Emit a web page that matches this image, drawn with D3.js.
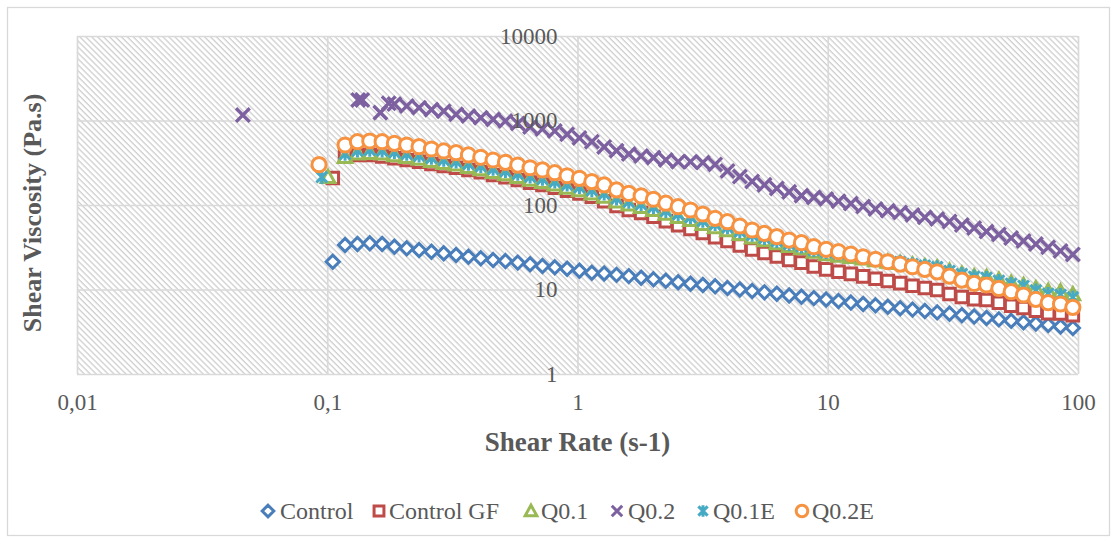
<!DOCTYPE html>
<html><head><meta charset="utf-8">
<script src="https://cdn.jsdelivr.net/npm/d3@7"></script>
<style>
html,body{margin:0;padding:0;background:#fff;}
svg{display:block;}
svg text{font-family:"Liberation Serif","Times New Roman",serif;}
</style></head>
<body>
<svg id="chart" width="1118" height="541"></svg>
<script>
// ---- data ----
const shearRate = [0.1052,0.1178,0.1320,0.1479,0.1657,0.1855,0.2078,0.2328,0.2608,0.2921,
  0.3272,0.3666,0.4107,0.4600,0.5153,0.5772,0.6466,0.7243,0.8114,0.9089,
  1.018,1.141,1.278,1.432,1.603,1.796,2.012,2.254,2.525,2.828,
  3.168,3.548,3.975,4.453,4.988,5.587,6.259,7.011,7.852,8.796,
  9.854,11.04,12.37,13.85,15.52,17.38,19.47,21.81,24.43,27.37,
  30.66,34.34,38.47,43.10,48.28,54.07,60.57,67.86,76.01,85.14,95.37];

const control = [21.3,33.6,34.6,35.2,34.6,32.1,30.7,29.3,28.0,26.8,25.6,24.4,23.4,22.3,21.7,20.8,19.9,19.0,18.3,17.6,
  16.7,15.8,15.5,14.9,14.4,13.8,13.2,12.7,12.2,11.7,11.3,10.9,10.4,10.0,9.6,9.25,8.9,8.5,8.2,7.9,
  7.6,7.3,7.0,6.75,6.5,6.24,6.0,5.78,5.57,5.36,5.16,4.96,4.78,4.60,4.43,4.26,4.10,3.95,3.80,3.65,3.50];

const controlGF = [209,380,391,391,375,357,341,325,306,289,276,260,244,226,213,198,184,173,160,148,
  137,125,111,97.3,87.3,80.4,72.5,64.1,57.7,52.0,46.6,41.5,37.5,33.2,29.7,27.0,24.6,22.3,20.8,18.7,
  17.3,16.2,15.3,14.3,13.4,12.6,11.9,11.1,10.4,9.84,8.84,8.15,7.65,7.51,6.96,6.43,6.04,5.60,5.24,5.20,4.95];

const q01 = [null,370,405,412,405,387,370,353,332,314,300,282,264,246,231,214,199,187,174,160,
  149,137,125,110,101,94.7,87.3,78.7,72.1,66.4,59.6,54.5,50.3,45.4,41.2,38.2,35.3,32.7,30.8,28.0,
  26.1,25.1,24.2,23.2,22.2,21.3,20.6,19.7,18.8,18.1,16.6,15.3,14.3,14.0,13.0,12.0,11.3,10.3,9.60,9.47,8.77];

const q02 = [null,null,null,null,null,1567,1485,1417,1345,1289,1184,1130,1079,1030,986,922,838,793,751,687,
  621,561,486,439,401,380,364,341,325,325,318,302,253,217,190,173,157,143,129,123,
  118,111,104,96,89.7,85.4,81.5,76.2,71.5,68.3,63.8,58,53.4,48.5,44.8,40.7,37.5,34.5,31.6,28.6,26];

const q01e = [null,401,439,448,439,421,401,383,360,341,325,306,287,267,251,233,216,203,189,174,
  162,149,136,119,109,102,94,84.7,77.8,71.8,64.7,59.1,54.3,48.7,44.1,40.6,37.3,34.4,32.2,29.1,
  27.6,26.5,25.4,24.1,22.9,21.9,21.2,20.0,19.2,18.4,16.6,15.3,14.2,13.8,12.7,11.7,11.0,9.79,8.92,8.65,8.09];

const q02e = [null,513,561,572,561,537,513,490,460,436,416,391,367,341,320,297,276,260,241,222,
  207,189,173,151,137,128,117,105,95.5,87.3,78.2,69.6,63.4,56.4,50.6,46.2,42.2,38.5,35.8,32.1,
  29.9,28.0,26.3,24.4,22.8,21.3,20.0,18.6,17.3,16.2,14.4,12.9,11.8,11.3,10.3,9.42,8.61,7.65,6.98,6.74,6.15];

// early readings taken at their own shear rates
const q01LeadRate = [0.1007], q01LeadVisc = [214];
const q02LeadRate = [0.046,0.133,0.138,0.163,0.176], q02LeadVisc = [1160,1750,1750,1240,1600];
const q01eLeadRate = [0.0951], q01eLeadVisc = [214];
const q02eLeadRate = [0.0927], q02eLeadVisc = [300];

const seriesNames = ["Control","Control GF","Q0.1","Q0.2","Q0.1E","Q0.2E"];
const xTickValues = [0.01,0.1,1,10,100];
const xTickLabels = ["0,01","0,1","1","10","100"];
const yTickValues = [1,10,100,1000,10000];
const yTickLabels = ["1","10","100","1000","10000"];

// ---- layout ----
const FONT = "'Liberation Serif','Times New Roman',serif";
const plot = {left:77, right:1078, top:36, bottom:374};
const colors = ["#4A7EBB","#BE4B48","#98B954","#7D60A0","#46AAC5","#F69240"];
const shapes = ["diamond","square","triangle","x","star","circle"];
const leads = [
  [[],[]],[[],[]],[q01LeadRate,q01LeadVisc],[q02LeadRate,q02LeadVisc],[q01eLeadRate,q01eLeadVisc],[q02eLeadRate,q02eLeadVisc]
];
const values = [control, controlGF, q01, q02, q01e, q02e];

const x = d3.scaleLog().domain([0.01,100]).range([plot.left, plot.right]);
const y = d3.scaleLog().domain([1,10000]).range([plot.bottom, plot.top]);

const svg = d3.select("#chart");
const defs = svg.append("defs");
const pat = defs.append("pattern").attr("id","hatch").attr("patternUnits","userSpaceOnUse")
  .attr("width",4.2).attr("height",4.2).attr("patternTransform","rotate(-45)");
pat.append("rect").attr("width",4.2).attr("height",4.2).attr("fill","#fff");
pat.append("line").attr("x1",1).attr("y1",0).attr("x2",1).attr("y2",4.2)
  .attr("stroke","#c8c8c8").attr("stroke-width",1.15);

// outer border
svg.append("rect").attr("x",7.5).attr("y",7.5).attr("width",1102).attr("height",528)
  .attr("fill","#fff").attr("stroke","#d9d9d9").attr("stroke-width",1.3);

// plot background
svg.append("rect").attr("x",plot.left).attr("y",plot.top)
  .attr("width",plot.right-plot.left).attr("height",plot.bottom-plot.top)
  .attr("fill","url(#hatch)");

// gridlines through axes
const gx = svg.append("g").attr("transform",`translate(0,${plot.bottom})`)
  .call(d3.axisBottom(x).tickValues(xTickValues).tickSize(-(plot.bottom-plot.top)).tickFormat(""));
const gy = svg.append("g").attr("transform",`translate(${plot.left},0)`)
  .call(d3.axisLeft(y).tickValues(yTickValues).tickSize(-(plot.right-plot.left)).tickFormat(""));
[gx,gy].forEach(g=>{
  g.select(".domain").remove();
  g.selectAll("line").attr("stroke","#d9d9d9").attr("stroke-width",1.7);
});

// markers
function markerPath(shape, s){
  switch(shape){
    case "diamond": return `M0,${-s}L${s},0L0,${s}L${-s},0Z`;
    case "square": { const h=s*0.85; return `M${-h},${-h}H${h}V${h}H${-h}Z`; }
    case "triangle": return `M0,${-s}L${s},${s*0.8}L${-s},${s*0.8}Z`;
    case "x": { const h=s*0.9; return `M${-h},${-h}L${h},${h}M${-h},${h}L${h},${-h}`; }
    case "star": { const h=s*0.8; return `M${-h},${-h}L${h},${h}M${-h},${h}L${h},${-h}M0,${-s}V${s}`; }
    case "circle": return null;
  }
}
function drawMarker(g, shape, color, cx, cy, s, sw){
  if(shape==="circle"){
    g.append("circle").attr("cx",cx).attr("cy",cy).attr("r",s)
      .attr("fill","#fff").attr("stroke",color).attr("stroke-width",sw);
  } else {
    const open = (shape==="x"||shape==="star");
    g.append("path").attr("d",markerPath(shape,s)).attr("transform",`translate(${cx},${cy})`)
      .attr("fill",open?"none":"#fff").attr("stroke",color).attr("stroke-width",sw)
      .attr("stroke-linejoin","miter");
  }
}
const sizes = {diamond:6.6,square:6.8,triangle:6.8,x:7.6,star:6.8,circle:7.1};
const marks = svg.append("g");
values.forEach((vals,i)=>{
  const g = marks.append("g").attr("class","series-"+i);
  const pts = [];
  leads[i][0].forEach((r,j)=>pts.push([r,leads[i][1][j]]));
  vals.forEach((v,j)=>{ if(v!=null) pts.push([shearRate[j],v]); });
  pts.forEach(p=>drawMarker(g, shapes[i], colors[i], x(p[0]), y(p[1]), sizes[shapes[i]], shapes[i]==="x"?3.4:3));
});

// axis labels (drawn over the data, y axis crosses at x = 1)
const tickColor = "#595959";
const xl = svg.append("g").attr("transform",`translate(0,${plot.bottom})`)
  .call(d3.axisBottom(x).tickValues(xTickValues).tickSize(0).tickPadding(20)
    .tickFormat((d,i)=>xTickLabels[i]));
const yl = svg.append("g").attr("transform",`translate(${x(1)-20},0)`)
  .call(d3.axisLeft(y).tickValues(yTickValues).tickSize(0).tickPadding(0)
    .tickFormat((d,i)=>yTickLabels[i]));
[xl,yl].forEach(g=>{
  g.select(".domain").remove();
  g.attr("font-family",FONT).attr("font-size",23);
  g.selectAll("text").attr("fill",tickColor).attr("font-family",FONT).attr("font-size",23);
});

// axis titles
svg.append("text").attr("x",(plot.left+plot.right)/2).attr("y",451)
  .attr("text-anchor","middle").attr("fill",tickColor).attr("font-family",FONT)
  .attr("font-size",27).attr("font-weight","bold").text("Shear Rate (s-1)");
svg.append("text").attr("transform",`translate(41,${(plot.top+plot.bottom)/2+8}) rotate(-90)`)
  .attr("text-anchor","middle").attr("fill",tickColor).attr("font-family",FONT)
  .attr("font-size",26).attr("font-weight","bold").text("Shear Viscosity (Pa.s)");

// legend
const legendMarkX = [268,379,531,617,703,802];
const legendTextX = [280,389,541,628,713,812];
const lg = svg.append("g");
seriesNames.forEach((n,i)=>{
  drawMarker(lg, shapes[i], colors[i], legendMarkX[i], 511, 5.8, 3);
  lg.append("text").attr("x",legendTextX[i]).attr("y",519).attr("fill",tickColor)
    .attr("font-family",FONT).attr("font-size",24).text(n);
});
</script>
</body></html>
